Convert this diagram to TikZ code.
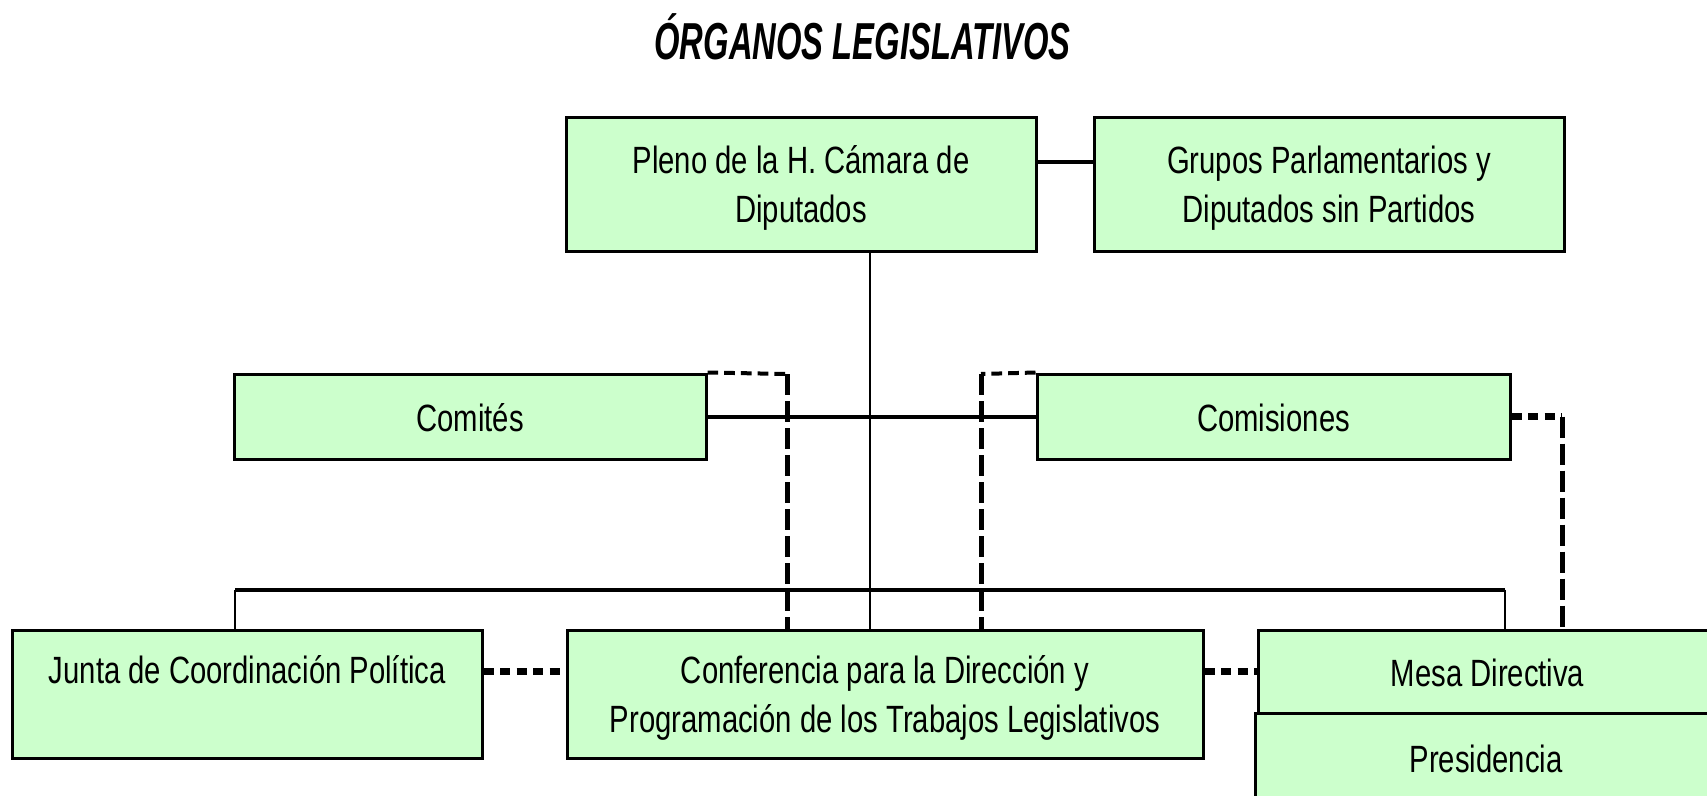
\documentclass[tikz,border=0pt]{standalone}
\usepackage{fontspec}
\setmainfont{Liberation Sans}
\newfontfamily\boxfont[FakeStretch=0.77]{Liberation Sans}
\newfontfamily\titlefont[FakeStretch=0.63]{Liberation Sans}
\definecolor{boxgreen}{HTML}{CCFFCC}
\newcommand\linestrut{\rule[-7pt]{0pt}{43pt}}
\begin{document}
\begin{tikzpicture}[x=1pt,y=-1pt,
  orgbox/.style={draw=black, line width=3pt, fill=boxgreen, inner sep=0pt,
    font=\boxfont\fontsize{38}{49.5}\selectfont, align=center},
  solidh/.style={line width=4pt},
  solidv/.style={line width=2.5pt},
  dotline/.style={line width=7pt, dash pattern=on 10pt off 6.5pt},
  dashh/.style={line width=4pt, dash pattern=on 10.7pt off 6pt},
  dashv/.style={line width=5pt, dash pattern=on 21pt off 6pt}]
\useasboundingbox (0,0) rectangle (1707,795);
\clip (0,0) rectangle (1707,795);
\fill[white] (0,0) rectangle (1707,795);

\node[anchor=base, font=\titlefont\bfseries\itshape\fontsize{52}{60}\selectfont] (title) at (862.5,59) {ÓRGANOS LEGISLATIVOS};

\node[orgbox, minimum width=470pt, minimum height=134pt] (pleno) at (801,184)
  {\linestrut Pleno de la H. Cámara de\\\linestrut Diputados};
\node[orgbox, minimum width=470pt, minimum height=134pt] (grupos) at (1329,184)
  {\linestrut Grupos Parlamentarios y\\\linestrut Diputados sin Partidos};
\node[orgbox, minimum width=472pt, minimum height=85pt] (comites) at (470,416.5)
  {\linestrut Comités};
\node[orgbox, minimum width=473pt, minimum height=85pt] (comisiones) at (1273.5,416.5)
  {\linestrut Comisiones};
\node[orgbox, minimum width=469.4pt, minimum height=128pt] (junta) at (247.3,694)
  {\linestrut Junta de Coordinación Política\\\linestrut\phantom{P}};
\node[orgbox, minimum width=636pt, minimum height=128pt] (conf) at (885,694)
  {\linestrut Conferencia para la Dirección y\\\linestrut Programación de los Trabajos Legislativos};
\node[orgbox, minimum width=462pt, minimum height=89pt] (pres) at (1486,757.5)
  {\linestrut Presidencia};
\node[orgbox, minimum width=459pt, minimum height=83pt] (mesa) at (1487.5,671.5)
  {\linestrut Mesa Directiva};

\coordinate (pg) at (0,161.5);
\coordinate (vx) at (870,0);
\coordinate (bl) at (235,589.5);
\coordinate (br) at (1505,589.5);
\coordinate (dy) at (0,671);
\coordinate (c1) at (787,374);
\coordinate (c2) at (981,374);
\coordinate (c3) at (1562,416.5);

% solid connectors
\draw[solidh] (pleno.east |- pg) -- (grupos.west |- pg);
\draw[solidv] (pleno.south -| vx) -- (conf.north -| vx);
\draw[solidh] (comites.east) -- (comisiones.west);
\draw[solidh] (bl) -- (br);
\draw[solidv] (bl) -- (junta.north -| bl);
\draw[solidv] (br) -- (mesa.north -| br);

% dotted connectors
\draw[dotline] (junta.east |- dy) -- (conf.west |- dy);
\draw[dotline] (conf.east |- mesa.west) -- (mesa.west);
\draw[dotline] (comisiones.east) -- (c3);

% dashed connectors
\draw[dashh] (comites.north east) -- (c1);
\draw[dashv] (c1) -- (conf.north -| c1);
\draw[dashh] (comisiones.north west) -- (c2);
\draw[dashv] (c2) -- (conf.north -| c2);
\draw[dashv] (c3) -- (mesa.north -| c3);
\end{tikzpicture}
\end{document}
